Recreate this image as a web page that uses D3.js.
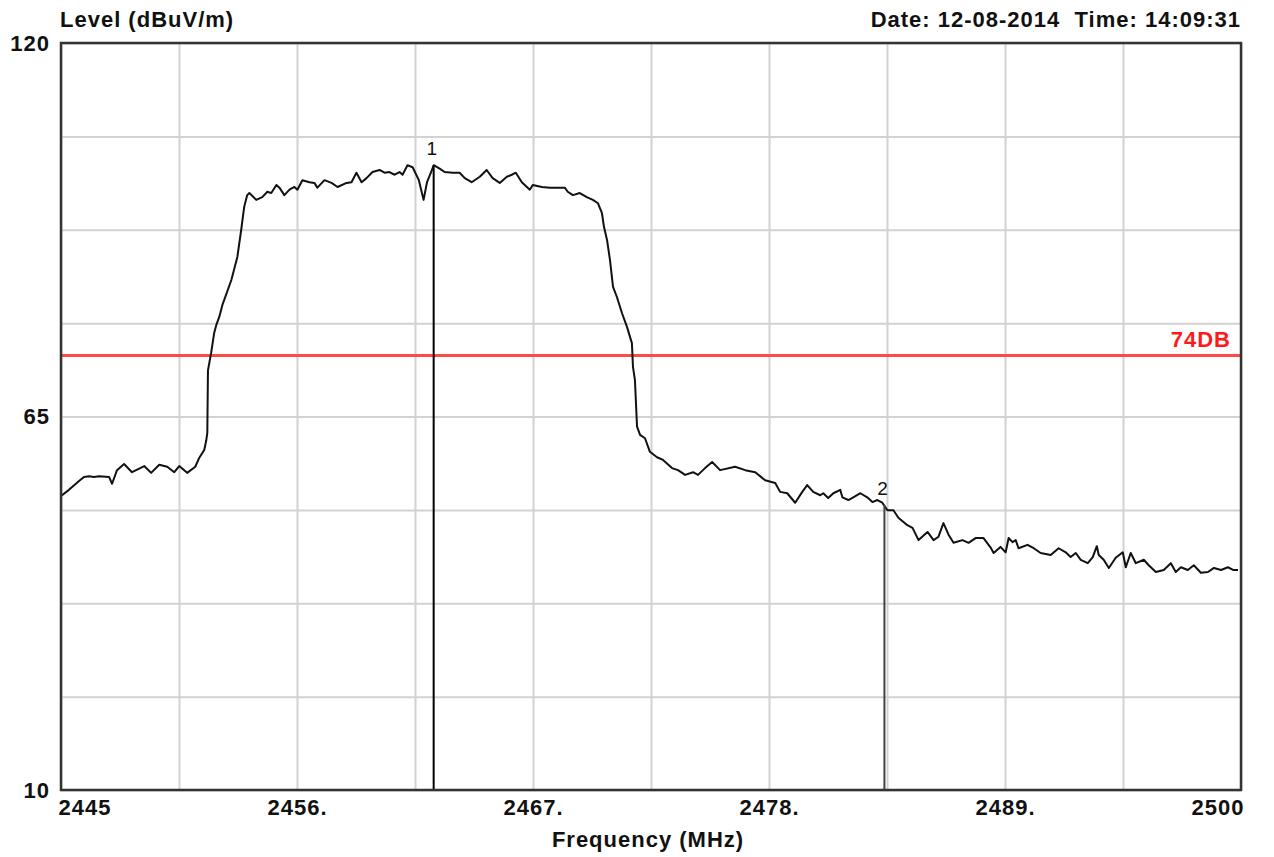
<!DOCTYPE html>
<html>
<head>
<meta charset="utf-8">
<script src="https://cdn.jsdelivr.net/npm/d3@7"></script>
<style>
  body { margin: 0; background: #fff; }
  text { font-family: "Liberation Sans", Arial, sans-serif; font-weight: bold; letter-spacing: 1px; fill: #111; white-space: pre; }
</style>
</head>
<body>
<div id="chart"></div>
<script>
// Data
const freq = [
  2445.00, 2445.37, 2445.84, 2446.07, 2446.31, 2446.54, 2446.77, 2447.24, 2447.38, 2447.61,
  2447.94, 2448.31, 2448.88, 2449.20, 2449.58, 2449.95, 2450.28, 2450.51, 2450.88, 2451.26,
  2451.44, 2451.68, 2451.77, 2451.82, 2451.85, 2452.00, 2452.14, 2452.24, 2452.38, 2452.52,
  2452.94, 2453.22, 2453.40, 2453.54, 2453.68, 2453.78, 2454.10, 2454.38, 2454.62, 2454.80,
  2455.04, 2455.18, 2455.41, 2455.65, 2455.88, 2456.02, 2456.25, 2456.58, 2456.81, 2456.95,
  2457.28, 2457.61, 2457.89, 2458.31, 2458.54, 2458.77, 2459.01, 2459.24, 2459.52, 2459.85,
  2460.08, 2460.31, 2460.55, 2460.78, 2460.92, 2461.15, 2461.39, 2461.45, 2461.68, 2461.90,
  2462.06, 2462.25, 2462.37, 2462.65, 2462.88, 2463.26, 2463.58, 2463.82, 2464.14, 2464.52,
  2464.84, 2465.12, 2465.45, 2465.78, 2466.01, 2466.20, 2466.48, 2466.85, 2466.99, 2467.41,
  2467.78, 2468.16, 2468.48, 2468.62, 2468.86, 2469.18, 2469.51, 2469.79, 2470.03, 2470.21,
  2470.31, 2470.45, 2470.59, 2470.73, 2470.91, 2471.15, 2471.38, 2471.61, 2471.66, 2471.75,
  2471.85, 2471.99, 2472.22, 2472.45, 2472.78, 2473.06, 2473.48, 2473.76, 2474.09, 2474.46,
  2474.69, 2475.02, 2475.35, 2475.72, 2476.42, 2476.89, 2477.36, 2477.82, 2478.29, 2478.52,
  2478.85, 2479.22, 2479.55, 2479.78, 2480.06, 2480.39, 2480.53, 2480.76, 2481.00, 2481.32,
  2481.42, 2481.70, 2481.93, 2482.26, 2482.58, 2482.82, 2483.05, 2483.28, 2483.52, 2483.80,
  2484.03, 2484.45, 2484.69, 2484.97, 2485.39, 2485.67, 2485.90, 2486.13, 2486.37, 2486.60,
  2487.02, 2487.30, 2487.63, 2488.00, 2488.33, 2488.47, 2488.79, 2489.03, 2489.17, 2489.35,
  2489.50, 2489.63, 2490.05, 2490.34, 2490.66, 2491.13, 2491.50, 2491.83, 2492.06, 2492.30,
  2492.53, 2492.86, 2493.09, 2493.28, 2493.37, 2493.60, 2493.84, 2494.16, 2494.49, 2494.63,
  2494.86, 2495.10, 2495.47, 2495.70, 2496.03, 2496.40, 2496.73, 2496.96, 2497.20, 2497.52,
  2497.80, 2498.13, 2498.46, 2498.74, 2499.07, 2499.39, 2499.63, 2499.86
];
const level = [
  53.3, 54.2, 55.5, 56.1, 56.2, 56.1, 56.2, 56.1, 55.1, 57.1,
  58.0, 56.8, 57.7, 56.7, 57.9, 57.6, 56.8, 57.7, 56.7, 57.6,
  58.9, 60.1, 61.5, 62.6, 71.8, 74.4, 77.3, 78.5, 79.7, 81.4,
  85.1, 88.5, 92.5, 95.9, 97.6, 97.9, 96.9, 97.3, 98.1, 97.9,
  99.1, 98.7, 97.6, 98.4, 98.8, 98.4, 99.8, 99.5, 99.4, 98.7,
  99.8, 99.4, 98.8, 99.4, 99.5, 100.9, 99.5, 100.1, 101.0, 101.3,
  100.9, 101.0, 100.6, 101.0, 100.6, 102.0, 101.7, 101.3, 99.8, 96.9,
  99.5, 101.0, 102.0, 101.5, 101.0, 100.9, 100.9, 100.1, 99.5, 100.3,
  101.3, 100.1, 99.4, 100.3, 100.6, 100.9, 99.5, 98.4, 99.1, 98.8,
  98.7, 98.7, 98.7, 98.1, 97.6, 97.9, 97.3, 96.9, 96.4, 95.0,
  92.9, 91.0, 88.0, 84.1, 82.6, 80.2, 78.2, 75.8, 72.3, 70.4,
  63.5, 62.3, 61.8, 59.8, 59.0, 58.6, 57.4, 57.1, 56.4, 56.8,
  56.4, 57.4, 58.3, 57.1, 57.6, 57.1, 56.8, 55.6, 55.2, 53.9,
  53.7, 52.3, 53.9, 54.9, 53.9, 53.4, 53.7, 53.0, 53.7, 54.2,
  53.1, 52.7, 53.1, 53.7, 53.1, 52.4, 52.7, 52.3, 51.2, 51.2,
  50.1, 49.0, 48.6, 46.8, 48.0, 46.8, 47.3, 49.3, 47.6, 46.4,
  46.8, 46.4, 47.1, 47.1, 45.7, 44.9, 45.8, 45.0, 47.1, 46.5,
  46.8, 45.6, 46.1, 45.6, 44.9, 44.6, 45.6, 45.0, 44.3, 44.9,
  43.9, 43.4, 44.3, 45.9, 44.6, 43.9, 42.7, 44.2, 45.0, 42.8,
  44.9, 43.4, 43.9, 43.1, 42.1, 42.4, 43.4, 42.1, 42.8, 42.4,
  43.1, 42.0, 42.1, 42.7, 42.4, 42.8, 42.4, 42.4
];

// Markers
const markerFreq = [2462.37, 2483.38];
const markerLevel = [102.0, 52.0];
const markerNames = ["1", "2"];

// Limit line
const limitLevel = 74;
const limitLabel = "74DB";

// Ticks
const xGridValues = d3.range(0, 11).map(i => 2445 + 5.5 * i);
const yGridValues = d3.range(0, 9).map(i => 10 + 13.75 * i);
const xLabelValues = [2445, 2456, 2467, 2478, 2489, 2500];
const xLabels = ["2445", "2456.", "2467.", "2478.", "2489.", "2500"];
const yLabelValues = [120, 65, 10];
const yLabels = ["120", "65", "10"];

const width = 1274;
const height = 857;
const plot = { left: 61, right: 1241, top: 43, bottom: 790 };

const svg = d3.select("#chart")
  .append("svg")
  .attr("width", width)
  .attr("height", height);

const x = d3.scaleLinear().domain([2445, 2500]).range([plot.left, plot.right]);
const y = d3.scaleLinear().domain([10, 120]).range([plot.bottom, plot.top]);

// Grid
svg.append("g")
  .attr("transform", `translate(0,${plot.bottom})`)
  .call(d3.axisBottom(x).tickValues(xGridValues).tickSize(-(plot.bottom - plot.top)).tickFormat(""))
  .call(g => g.select(".domain").remove())
  .call(g => g.selectAll("line").attr("stroke", "#d2d2d2").attr("stroke-width", 2));

svg.append("g")
  .attr("transform", `translate(${plot.left},0)`)
  .call(d3.axisLeft(y).tickValues(yGridValues).tickSize(-(plot.right - plot.left)).tickFormat(""))
  .call(g => g.select(".domain").remove())
  .call(g => g.selectAll("line").attr("stroke", "#d2d2d2").attr("stroke-width", 2));

// Limit line
svg.append("line")
  .attr("x1", plot.left).attr("x2", plot.right)
  .attr("y1", y(limitLevel)).attr("y2", y(limitLevel))
  .attr("stroke", "#ff4a4a")
  .attr("stroke-width", 3);

svg.append("text")
  .attr("x", plot.right - 10)
  .attr("y", y(limitLevel) - 8)
  .attr("text-anchor", "end")
  .style("fill", "#ff1a1a")
  .style("font-size", "22px")
  .text(limitLabel);

// Trace
const line = d3.line()
  .x((d, i) => x(freq[i]))
  .y(d => y(d));

svg.append("path")
  .datum(level)
  .attr("fill", "none")
  .attr("stroke", "#111")
  .attr("stroke-width", 2)
  .attr("stroke-linejoin", "round")
  .attr("d", line);

// Marker lines
svg.selectAll(".marker")
  .data(markerFreq)
  .join("line")
  .attr("class", "marker")
  .attr("x1", d => x(d)).attr("x2", d => x(d))
  .attr("y1", y(10))
  .attr("y2", (d, i) => y(markerLevel[i]))
  .attr("stroke", (d, i) => i === 0 ? "#000" : "#444")
  .attr("stroke-width", 2);

svg.selectAll(".marker-label")
  .data(markerFreq)
  .join("text")
  .attr("class", "marker-label")
  .attr("x", d => x(d) - 2)
  .attr("y", (d, i) => y(markerLevel[i]) - 10)
  .attr("text-anchor", "middle")
  .style("font-weight", "normal")
  .style("letter-spacing", "0px")
  .style("font-size", "19px")
  .text((d, i) => markerNames[i]);

// Frame
svg.append("rect")
  .attr("x", plot.left).attr("y", plot.top)
  .attr("width", plot.right - plot.left)
  .attr("height", plot.bottom - plot.top)
  .attr("fill", "none")
  .attr("stroke", "#333")
  .attr("stroke-width", 2.5);

// Axis labels
const xAxis = svg.append("g")
  .attr("transform", `translate(0,${plot.bottom})`)
  .call(d3.axisBottom(x).tickValues(xLabelValues).tickSize(0).tickPadding(9)
    .tickFormat((d, i) => xLabels[i]))
  .call(g => g.select(".domain").remove());
xAxis.selectAll("text")
  .attr("font-size", null).attr("font-family", null)
  .style("font-size", "22px")
  .attr("text-anchor", (d, i) => i === 0 ? "start" : i === xLabels.length - 1 ? "end" : "middle")
  .attr("dx", (d, i) => i === 0 ? -3 : i === xLabels.length - 1 ? 3 : 0);

const yAxis = svg.append("g")
  .attr("transform", `translate(${plot.left},0)`)
  .call(d3.axisLeft(y).tickValues(yLabelValues).tickSize(0).tickPadding(11)
    .tickFormat((d, i) => yLabels[i]))
  .call(g => g.select(".domain").remove());
yAxis.selectAll("text")
  .attr("font-size", null).attr("font-family", null)
  .style("font-size", "22px");

svg.append("text")
  .attr("x", plot.left - 1)
  .attr("y", 27)
  .style("font-size", "22px")
  .text("Level (dBuV/m)");

svg.append("text")
  .attr("x", plot.right)
  .attr("y", 27)
  .attr("text-anchor", "end")
  .style("font-size", "22px")
  .text("Date: 12-08-2014  Time: 14:09:31");

svg.append("text")
  .attr("x", (plot.left + plot.right) / 2 - 3)
  .attr("y", 847)
  .attr("text-anchor", "middle")
  .style("font-size", "22px")
  .text("Frequency (MHz)");
</script>
</body>
</html>
